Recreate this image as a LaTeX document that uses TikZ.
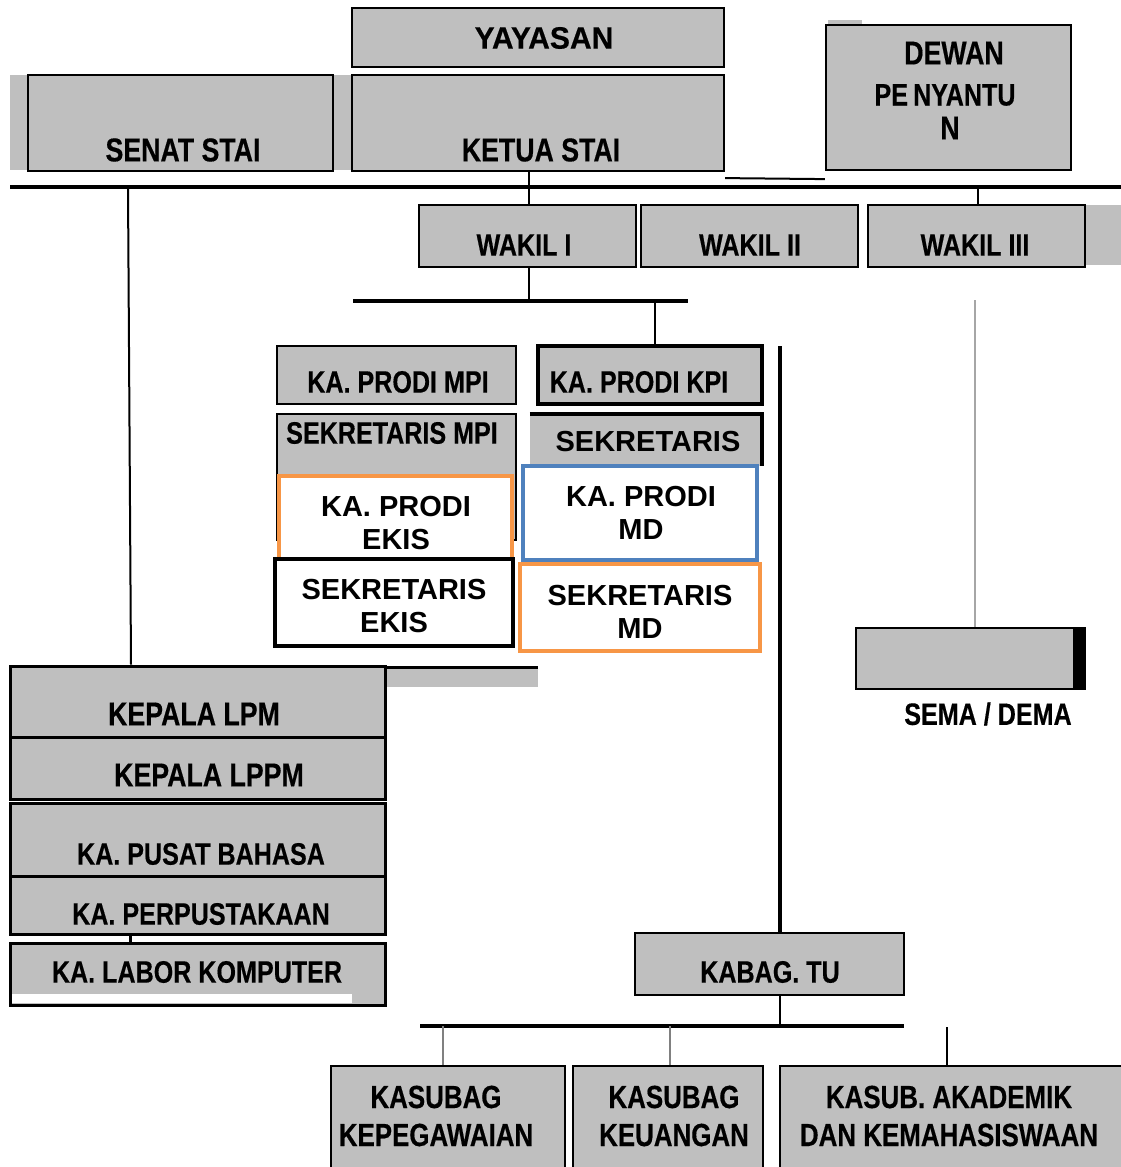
\documentclass[tikz,border=0pt]{standalone}
\usepackage{fontspec}
\setmainfont{Liberation Sans}
\newfontfamily\narrowfont[FakeStretch=0.81, BoldFeatures={FakeBold=0.4}]{Liberation Sans}
\newfontfamily\wideyfont[FakeStretch=0.97, BoldFeatures={FakeBold=0.4}]{Liberation Sans}
\usepackage{tikz}
\usepackage{xcolor}
\definecolor{boxgray}{RGB}{191,191,191}
\definecolor{prodiorange}{RGB}{247,150,70}
\definecolor{prodiblue}{RGB}{79,129,189}

\tikzset{
  gbox/.style={draw=black, fill=boxgray, line width=2.2pt, inner sep=0pt},
  wbox/.style={fill=white, line width=3.5pt, inner sep=0pt},
  nlbl/.style={inner sep=0pt, align=center, font=\narrowfont\bfseries\fontsize{31}{38}\selectfont},
  blbl/.style={nlbl, font=\narrowfont\bfseries\fontsize{33}{38}\selectfont},
  wlbl/.style={inner sep=0pt, align=center, font=\bfseries\fontsize{29}{33}\selectfont},
  conn/.style={line width=2pt},
  bar/.style={line width=3.5pt}
}

\begin{document}
\begin{tikzpicture}[x=1pt, y=-1pt]
                \useasboundingbox (0,0) rectangle (1121,1167);

                % Riga superiore
                \fill[boxgray] (10,75) rectangle (352,170);
                \fill[boxgray] (828,20) rectangle (862,26);
                \node[gbox, minimum width=372, minimum height=59] (yayasan) at (538,37.5) {};
                \node[gbox, minimum width=305, minimum height=96] (senat) at (180.5,123) {};
                \node[gbox, minimum width=372, minimum height=96] (ketua) at (538,123) {};
                \node[gbox, minimum width=245, minimum height=145] (dewan) at (948.5,97.5) {};

                \node[nlbl, font=\wideyfont\bfseries\fontsize{31}{38}\selectfont] (tyayasan) at (544,38) {YAYASAN};
                \node[blbl] (tsenat) at (183,150) {SENAT STAI};
                \node[blbl] (tketua) at (541,150) {KETUA STAI};
                \node[blbl] (tdewan1) at (954,53) {DEWAN};
                \node[nlbl] (tdewan2) at (945,95) {PE\,NYANTU};
                \node[blbl] (tdewan3) at (950,128) {N};

                % Barra principale
                \coordinate (barL) at (10,187);
                \coordinate (barR) at (1121,187);
                \draw[line width=4pt] (barL) -- (barR);

                % Wakil
                \fill[boxgray] (1085,205) rectangle (1121,265);
                \node[gbox, minimum width=217, minimum height=62] (wakil1) at (527.5,236) {};
                \node[gbox, minimum width=217, minimum height=62] (wakil2) at (749.5,236) {};
                \node[gbox, minimum width=217, minimum height=62] (wakil3) at (976.5,236) {};
                \node[nlbl] (twakil1) at (524,245) {WAKIL I};
                \node[nlbl] (twakil2) at (750,245) {WAKIL II};
                \node[nlbl] (twakil3) at (975,245) {WAKIL III};

                \draw[conn] ([xshift=1.5pt]wakil1.north) -- ([xshift=1.5pt]wakil1.north |- ketua.south);
                \draw[conn] ([xshift=1.5pt]wakil3.north) -- ([xshift=1.5pt]wakil3.north |- barL);
                \draw[conn] ([yshift=-6pt]ketua.south east) -- ([yshift=-8pt]dewan.south west);

                % Prodi
                \coordinate (bar2L) at (353,301);
                \coordinate (bar2R) at (688,301);
                \draw[bar] (bar2L) -- (bar2R);
                \draw[conn] ([xshift=1.5pt]wakil1.south) -- ([xshift=1.5pt]wakil1.south |- bar2L);

                \node[gbox, minimum width=239, minimum height=58] (prodimpi) at (396.5,375) {};
                \node[gbox, minimum width=239, minimum height=126] (sekmpi) at (396.5,477) {};
                \node[gbox, line width=3.5pt, minimum width=224, minimum height=58] (prodikpi) at (650,375) {};
                \node[fill=boxgray, inner sep=0pt, minimum width=232, minimum height=52] (sekkpi) at (646,440) {};
                \draw[line width=3.5pt] (sekkpi.north west) -- (sekkpi.north east) -- (sekkpi.south east);
                \draw[conn] (655,301) -- (655,301 |- prodikpi.north);

                \node[wbox, draw=prodiorange, minimum width=233, minimum height=84] (prodiekis) at (395.5,518) {};
                \node[wbox, draw=black, line width=4pt, minimum width=238, minimum height=87] (sekekis) at (394,602.5) {};
                \node[wbox, draw=prodiblue, minimum width=234, minimum height=94] (prodimd) at (640,513) {};
                \node[wbox, draw=prodiorange, minimum width=240, minimum height=87] (sekmd) at (640,607.5) {};

                \node[nlbl] (tprodimpi) at (398,382) {KA. PRODI MPI};
                \node[nlbl] (tsekmpi) at (392,433) {SEKRETARIS MPI};
                \node[nlbl] (tprodikpi) at (639,382) {KA. PRODI KPI};
                \node[wlbl] (tsekkpi) at (648,442) {SEKRETARIS};
                \node[wlbl] (tprodiekis) at (396,523) {KA. PRODI\\EKIS};
                \node[wlbl] (tsekekis) at (394,606) {SEKRETARIS\\EKIS};
                \node[wlbl] (tprodimd) at (641,513) {KA. PRODI\\MD};
                \node[wlbl] (tsekmd) at (640,612) {SEKRETARIS\\MD};

                % Sema / Dema
                \node[gbox, minimum width=229, minimum height=61] (sema) at (970.5,658.5) {};
                \fill (1073,628) rectangle (1085,689);
                \node[nlbl] (tsema) at (988,714) {SEMA / DEMA};
                \draw[line width=1.5pt, gray!70] (975,300) -- (975,300 |- sema.north);

                % Lembaga
                \fill[boxgray] (385,666) rectangle (538,687);
                \draw[line width=3pt] (385,667) -- (538,667);
                \node[gbox, line width=3pt, minimum width=375, minimum height=71] (lpm) at (197.5,701.5) {};
                \node[gbox, line width=3pt, minimum width=375, minimum height=62] (lppm) at (197.5,768) {};
                \node[gbox, line width=3pt, minimum width=375, minimum height=73] (pusat) at (197.5,839.5) {};
                \node[gbox, line width=3pt, minimum width=375, minimum height=58] (perpus) at (197.5,905) {};
                \node[gbox, line width=3pt, minimum width=375, minimum height=62] (labor) at (197.5,974) {};
                \fill[white] (12,994) rectangle (352,1003);

                \node[blbl] (tlpm) at (194,714) {KEPALA LPM};
                \node[blbl] (tlppm) at (209,775) {KEPALA LPPM};
                \node[nlbl] (tpusat) at (201,854) {KA. PUSAT BAHASA};
                \node[nlbl] (tperpus) at (201,914) {KA. PERPUSTAKAAN};
                \node[nlbl] (tlabor) at (197,972) {KA. LABOR KOMPUTER};

                \coordinate (senatbar) at (128,189);
                \draw[conn] (senatbar) -- (131,0 |- lpm.north);
                \draw[line width=3pt] (130,0 |- perpus.south) -- (130,0 |- labor.north);

                % Tata usaha
                \coordinate (tutop) at (780,346);
                \node[gbox, minimum width=269, minimum height=62] (kabag) at (769.5,964) {};
                \node[nlbl] (tkabag) at (770,972) {KABAG. TU};
                \draw[bar] (tutop) -- (tutop |- kabag.north);

                \coordinate (bar3L) at (420,1026);
                \coordinate (bar3R) at (904,1026);
                \draw[bar] (bar3L) -- (bar3R);
                \draw[conn] (780,0 |- kabag.south) -- (780,0 |- bar3L);

                \node[gbox, minimum width=234, minimum height=104] (kepeg) at (448,1118) {};
                \node[gbox, minimum width=190, minimum height=104] (keuangan) at (668,1118) {};
                \node[gbox, minimum width=345, minimum height=104] (akademik) at (952.5,1118) {};
                \draw[line width=1.2pt, gray] (443,0 |- bar3L) -- (443,0 |- kepeg.north);
                \draw[line width=1.2pt, gray] (670,0 |- bar3L) -- (670,0 |- keuangan.north);
                \draw[conn] (947,1027) -- (947,0 |- akademik.north);

                \node[nlbl, font=\narrowfont\bfseries\fontsize{32}{38}\selectfont] (tkepeg) at (436,1116) {KASUBAG\\KEPEGAWAIAN};
                \node[nlbl, font=\narrowfont\bfseries\fontsize{32}{38}\selectfont] (tkeuangan) at (674,1116) {KASUBAG\\KEUANGAN};
                \node[nlbl, font=\narrowfont\bfseries\fontsize{32}{38}\selectfont] (takademik) at (949,1116) {KASUB. AKADEMIK\\DAN KEMAHASISWAAN};

\end{tikzpicture}
\end{document}
